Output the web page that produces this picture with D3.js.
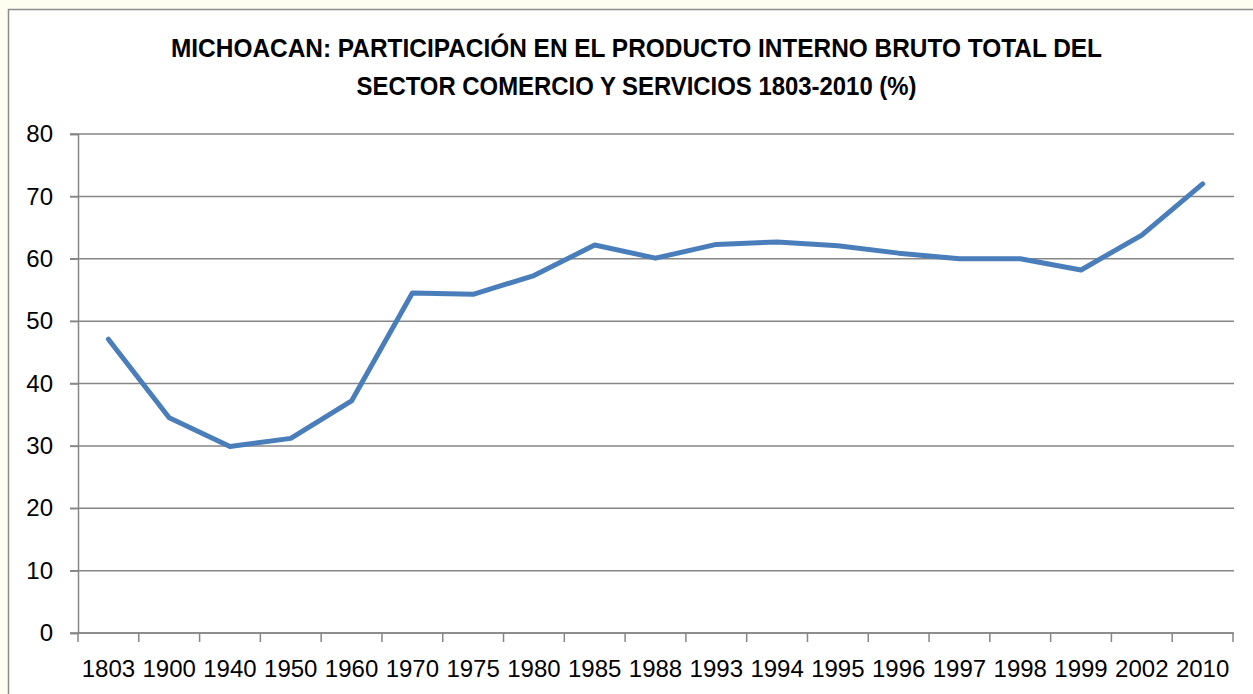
<!DOCTYPE html>
<html lang="es">
<head>
    <meta charset="UTF-8">
    <title>Michoacan PIB comercio y servicios</title>
    <style>
        body{
            margin:0;
            background:#fefef0;
        }
    </style>
    <script src="https://cdn.jsdelivr.net/npm/d3@7/dist/d3.min.js"></script>
</head>
<body>
<div id="container"></div>
</body>
<script>
    var years = ['1803','1900','1940','1950','1960','1970','1975','1980','1985','1988','1993','1994','1995','1996','1997','1998','1999','2002','2010'];
    var shares = [47.1, 34.5, 29.9, 31.2, 37.2, 54.5, 54.3, 57.3, 62.2, 60.1, 62.3, 62.7, 62.1, 60.9, 60.0, 60.0, 58.2, 63.8, 72.0];
    var yTicks = [0, 10, 20, 30, 40, 50, 60, 70, 80];
    var titleLines = ['MICHOACAN: PARTICIPACIÓN EN EL PRODUCTO INTERNO BRUTO TOTAL DEL',
                      'SECTOR COMERCIO Y SERVICIOS 1803-2010 (%)'];

    var w = 1253, h = 694,
        plotLeft = 78, plotRight = 1233, plotTop = 134, plotBottom = 633,
        font = '"Liberation Sans", Arial, sans-serif',
        gridColor = '#868686';

    var svg = d3.select('#container').append('svg').attr('width', w).attr('height', h);

    // chart box
    svg.append('rect')
        .attr('x', 8.5).attr('y', 9.5).attr('width', w + 10).attr('height', h + 10)
        .attr('fill', '#ffffff').attr('stroke', '#8c8c8c').attr('stroke-width', 1.5);

    var xScale = d3.scaleBand().domain(years).range([plotLeft, plotRight]).padding(0),
        yScale = d3.scaleLinear().domain([0, 80]).range([plotBottom, plotTop]);

    // title
    var titleWidths = [931, 560];
    svg.selectAll('text.title').data(titleLines).enter().append('text')
        .attr('class', 'title')
        .attr('x', 636.5)
        .attr('y', function (d, i) { return 57 + i * 38; })
        .attr('text-anchor', 'middle')
        .attr('font-family', font)
        .attr('font-weight', 'bold')
        .attr('font-size', '25px')
        .attr('textLength', function (d, i) { return titleWidths[i]; })
        .attr('lengthAdjust', 'spacingAndGlyphs')
        .attr('fill', '#000')
        .text(function (d) { return d; });

    // gridlines
    svg.append('g').selectAll('line').data(yTicks).enter().append('line')
        .attr('x1', plotLeft - 8).attr('x2', plotRight + 1)
        .attr('y1', function (d) { return yScale(d); })
        .attr('y2', function (d) { return yScale(d); })
        .attr('stroke', gridColor).attr('stroke-width', 1.5);

    // y axis
    var yAxis = d3.axisLeft(yScale).tickValues(yTicks).tickSize(8).tickPadding(17);
    var gy = svg.append('g').attr('transform', 'translate(' + plotLeft + ',0)').call(yAxis);
    gy.select('.domain').attr('stroke', gridColor).attr('stroke-width', 1.5);
    gy.selectAll('.tick line').attr('stroke', gridColor).attr('stroke-width', 1.5);
    gy.selectAll('text').attr('font-family', font).attr('font-size', '24px').attr('fill', '#000');

    // x axis: ticks on category boundaries
    var bounds = years.map(function (d) { return xScale(d); }).concat([plotRight]);
    svg.append('g').selectAll('line').data(bounds).enter().append('line')
        .attr('x1', function (d) { return d; }).attr('x2', function (d) { return d; })
        .attr('y1', plotBottom).attr('y2', plotBottom + 9)
        .attr('stroke', gridColor).attr('stroke-width', 1.5);
    svg.append('line')
        .attr('x1', plotLeft).attr('x2', plotRight).attr('y1', plotBottom).attr('y2', plotBottom)
        .attr('stroke', gridColor).attr('stroke-width', 1.5);
    svg.append('g').selectAll('text').data(years).enter().append('text')
        .attr('x', function (d) { return xScale(d) + xScale.bandwidth() / 2; })
        .attr('y', 677)
        .attr('text-anchor', 'middle')
        .attr('font-family', font).attr('font-size', '24px').attr('fill', '#000')
        .text(function (d) { return d; });

    // line
    var line = d3.line()
        .x(function (d, i) { return xScale(years[i]) + xScale.bandwidth() / 2; })
        .y(function (d) { return yScale(d); });
    svg.append('path').datum(shares)
        .attr('d', line)
        .attr('fill', 'none')
        .attr('stroke', '#4a7ebb')
        .attr('stroke-width', 5)
        .attr('stroke-linejoin', 'round')
        .attr('stroke-linecap', 'round');
</script>
</html>
